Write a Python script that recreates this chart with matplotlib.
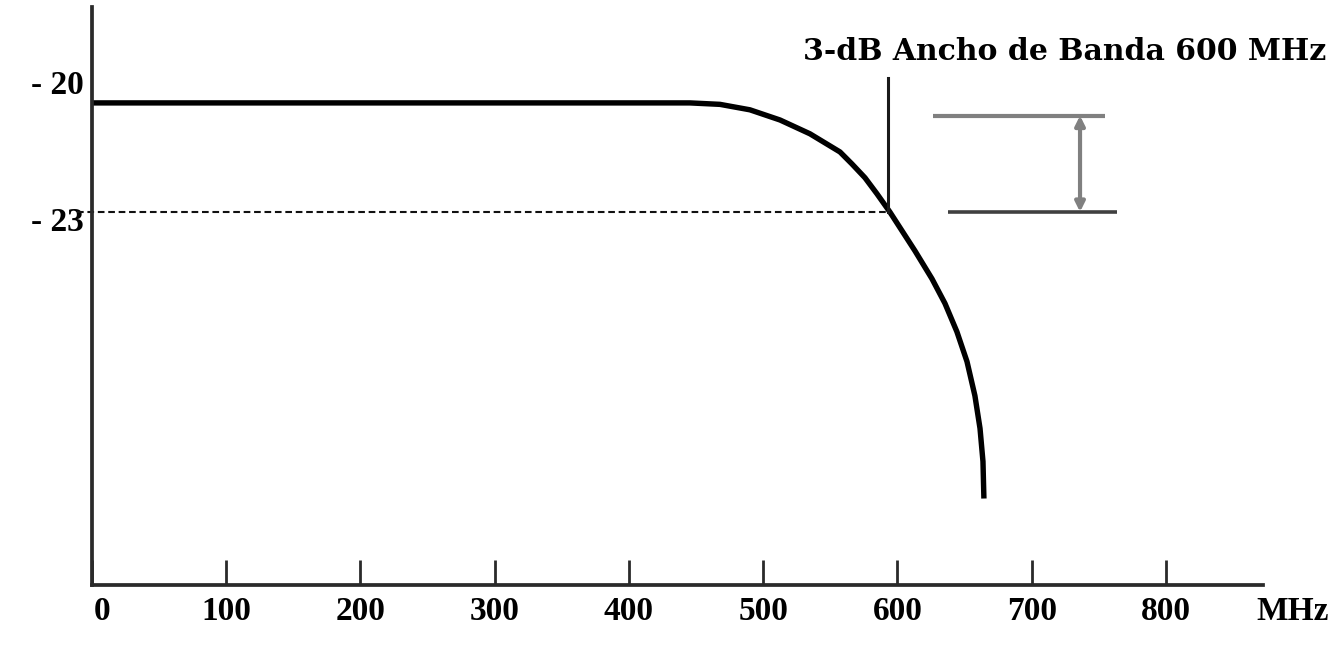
import matplotlib
matplotlib.use("Agg")
import matplotlib.pyplot as plt
import matplotlib.transforms as mtransforms

# ---- data ----
freq_mhz = [0, 445.4, 467.8, 490.1, 512.5, 534.8, 557.2, 566.1, 575.8, 584.7, 594.3, 613.0,
            625.7, 635.4, 644.3, 651.8, 657.7, 661.5, 663.7, 664.4]
atten_db = [-20.0, -20.0, -20.04, -20.19, -20.47, -20.85, -21.35, -21.68, -22.06, -22.50, -23.0,
            -24.07, -24.84, -25.52, -26.30, -27.12, -28.06, -28.96, -29.87, -30.89]

x_ticks = [0, 100, 200, 300, 400, 500, 600, 700, 800]
x_tick_labels = ["0", "100", "200", "300", "400", "500", "600", "700", "800"]
y_ticks = [-20, -23]
y_tick_labels = ["- 20", "- 23"]
x_unit = "MHz"

level_3db = -23.0
f_3db = 593.3
bracket_top = -20.35
bracket_bottom = -23.0
title_text = "3-dB Ancho de Banda 600 MHz"

# ---- figure ----
W, H = 1331, 650
fig = plt.figure(figsize=(W / 100, H / 100), dpi=100)
ax = fig.add_axes([92 / W, 65 / H, (1263 - 92) / W, (585 - 7) / H])
ax.set_xlim(0, 872.3)
ax.set_ylim(-33.27, -17.36)

FONT = "Liberation Serif"
INK = "#000000"
AXC = "#2a2a2a"

# spines
for s in ["top", "right"]:
    ax.spines[s].set_visible(False)
for s in ["left", "bottom"]:
    ax.spines[s].set_linewidth(2.7)
    ax.spines[s].set_color(AXC)

# main response curve
ax.plot(freq_mhz, atten_db, color=INK, lw=3.9, solid_joinstyle="round", solid_capstyle="butt")

# dashed -3 dB line
ax.plot([-11, f_3db], [level_3db, level_3db], color="#111111", lw=1.5,
        linestyle=(0, (3.2, 1.8)), clip_on=False)
# vertical marker at 3-dB point
ax.plot([f_3db, f_3db], [level_3db, -19.31], color="#1a1a1a", lw=2.2, clip_on=False)

# 3 dB bracket
ax.plot([626.4, 754.5], [bracket_top, bracket_top], color="#808080", lw=3.0, solid_capstyle="butt")
ax.plot([637.6, 763.5], [bracket_bottom, bracket_bottom], color="#404040", lw=2.6, solid_capstyle="butt")
ax.annotate("", xy=(736, bracket_top), xytext=(736, bracket_bottom),
            arrowprops=dict(arrowstyle="<|-|>", color="#808080", lw=3.0,
                            mutation_scale=14, shrinkA=0, shrinkB=0))

# ticks
ax.set_xticks(x_ticks)
ax.set_xticklabels(x_tick_labels, fontfamily=FONT, fontweight="bold", fontsize=24)
ax.tick_params(axis="x", direction="in", length=18, width=2.0, color=AXC, pad=8)
ax.set_yticks(y_ticks)
ax.set_yticklabels(y_tick_labels, fontfamily=FONT, fontweight="bold", fontsize=24)
ax.tick_params(axis="y", length=0, pad=6)

# small offsets to match the hand-placed labels
lbls = ax.get_xticklabels()
lbls[0].set_transform(lbls[0].get_transform() +
                      mtransforms.ScaledTranslation(10 / 100, 0, fig.dpi_scale_trans))
ylbls = ax.get_yticklabels()
ylbls[0].set_transform(ylbls[0].get_transform() +
                       mtransforms.ScaledTranslation(0, 21 / 100, fig.dpi_scale_trans))
ylbls[1].set_transform(ylbls[1].get_transform() +
                       mtransforms.ScaledTranslation(0, -7 / 100, fig.dpi_scale_trans))

# unit label
fig.text(1293 / W, 1 - 611 / H, x_unit, fontfamily=FONT, fontweight="bold", fontsize=24,
         ha="center", va="center")

# title annotation
fig.text(1326 / W, 1 - 52 / H, title_text, fontfamily="DejaVu Serif", fontweight="bold",
         fontsize=21.5, ha="right", va="center")

fig.savefig("out.png", dpi=100, facecolor="white")
